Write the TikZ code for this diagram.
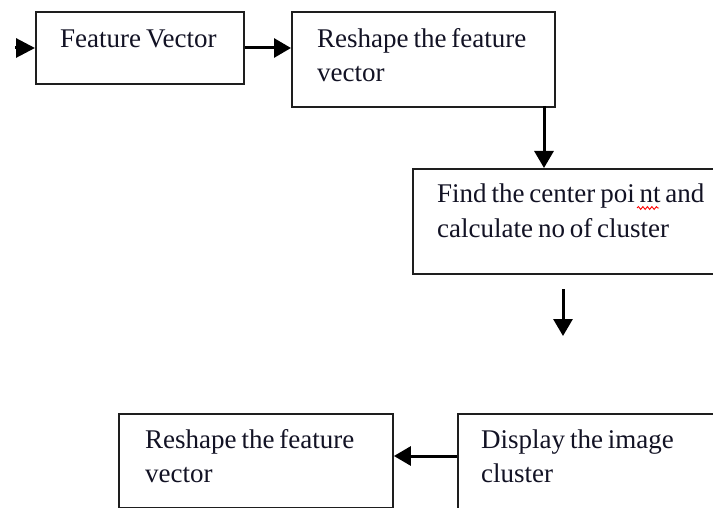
\documentclass[tikz,border=0pt]{standalone}
\usepackage{fontspec}
\setmainfont{Liberation Serif}[WordSpace=0.72]
\usetikzlibrary{arrows.meta,decorations.pathmorphing,calc}
\definecolor{ink}{RGB}{18,18,36}
\definecolor{edge}{RGB}{30,30,30}
\begin{document}
\begin{tikzpicture}[x=1pt,y=-1pt,
  box/.style={draw=edge, line width=1.9pt, rectangle, inner sep=0pt, anchor=north west},
  txt/.style={anchor=base west, inner sep=0pt, font=\fontsize{27}{34}\selectfont, text=ink},
  conn/.style={line width=3pt, draw=black, -{Triangle[length=17pt,width=19pt]}},
  squiggle/.style={draw=red, line width=0.9pt, decorate, decoration={snake, amplitude=1.4pt, segment length=4.5pt}}
]
\useasboundingbox (0,0) rectangle (713,508);
\clip (0,0) rectangle (713,508);
\fill[white] (0,0) rectangle (713,508);
% boxes
\node[box, minimum width=208pt, minimum height=72pt] (fv) at (35,11) {};
\node[box, minimum width=263pt, minimum height=95pt] (rs) at (291,11) {};
\node[box, minimum width=320pt, minimum height=105pt] (fc) at (412,168) {};
\node[box, minimum width=280pt, minimum height=110pt] (dp) at (457,413) {};
\node[box, minimum width=274pt, minimum height=94pt] (re) at (118,413) {};
% texts
\node[txt] (fvt) at (60,48) {Feature Vector};
\node[txt] (rst1) at (317,48) {Reshape the feature};
\node[txt] (rst2) at (317,82) {vector};
\node[txt] (fct1) at (437,203) {Find the center poi nt and};
\node[txt] (fct2) at (437,237) {calculate no of cluster};
\node[txt] (dpt1) at (481,448) {Display the image};
\node[txt] (dpt2) at (481,482) {cluster};
\node[txt] (ret1) at (145,448) {Reshape the feature};
\node[txt] (ret2) at (145,482) {vector};
% spell-check mark
\coordinate (sq1) at (637,208);
\coordinate (sq2) at (659,208);
\draw[squiggle] (sq1) -- (sq2);
% connectors
\coordinate (in) at (15,48);
\draw[conn, -{Triangle[length=19pt,width=19pt]}] (in) -- (in -| fv.west);
\draw[conn] (fv.east |- in) -- (rs.west |- in);
\coordinate (bc) at (544,106);
\draw[conn] (bc) -- (bc |- fc.north);
\coordinate (fl1) at (563,289);
\coordinate (fl2) at (563,336);
\draw[conn] (fl1) -- (fl2);
\coordinate (de) at (457,456);
\draw[conn] (dp.west |- de) -- (re.east |- de);
\end{tikzpicture}
\end{document}
